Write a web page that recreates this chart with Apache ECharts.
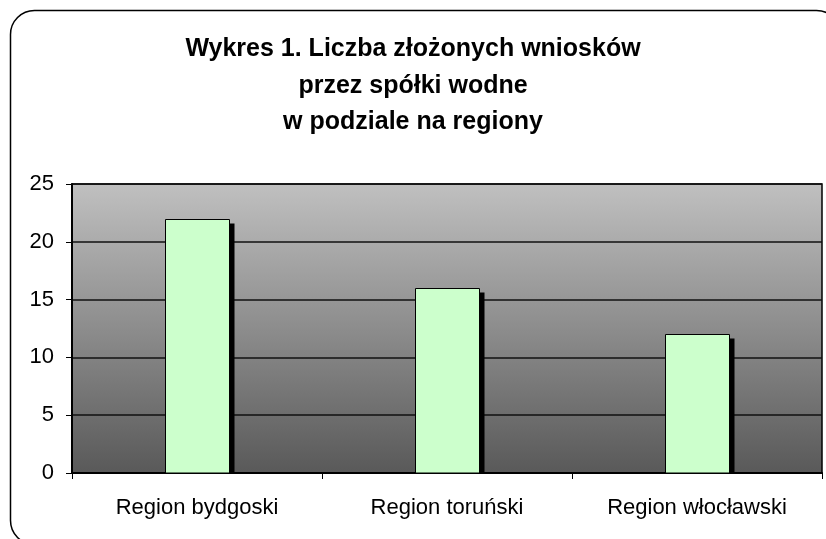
<!DOCTYPE html>
<html lang="pl" style="height: 100%">

<head>
    <meta charset="utf-8">
</head>

<body style="height: 100%; margin: 0; background: #ffffff;">
    <div id="container" style="width: 826px; height: 539px"></div>

    <script type="text/javascript" src="https://cdn.jsdelivr.net/npm/echarts@6/dist/echarts.min.js"></script>
    <script type="text/javascript">
        var titleLines = ['Wykres 1. Liczba złożonych wniosków', 'przez spółki wodne', 'w podziale na regiony'];
        var categories = ['Region bydgoski', 'Region toruński', 'Region włocławski'];
        var values = [22, 16, 12];
        var yTicks = [0, 5, 10, 15, 20, 25];

        var dom = document.getElementById('container');
        var myChart = echarts.init(dom, null, { renderer: 'canvas' });

        var fontName = '"Liberation Sans", Arial, sans-serif';
        var barRatio = 0.256; // szerokość słupka względem kategorii

        var option = {
            animation: false,
            backgroundColor: '#ffffff',
            title: {
                text: titleLines.join('\n'),
                left: 'center',
                top: 26,
                textStyle: {
                    fontFamily: fontName,
                    fontSize: 25,
                    fontWeight: 'bold',
                    color: '#000',
                    lineHeight: 36.5
                }
            },
            // ramka wykresu
            graphic: [{
                type: 'rect',
                silent: true,
                z: -10,
                shape: { x: 10.5, y: 10.5, width: 830, height: 534, r: 24 },
                style: { fill: 'none', stroke: '#000', lineWidth: 1.5 }
            }],
            grid: {
                left: 72,
                top: 184,
                right: 4,
                bottom: 66,
                show: true,
                borderColor: '#000',
                borderWidth: 1.5,
                backgroundColor: {
                    type: 'linear', x: 0, y: 0, x2: 0, y2: 1,
                    colorStops: [
                        { offset: 0, color: '#c0c0c0' },
                        { offset: 1, color: '#595959' }
                    ]
                }
            },
            xAxis: {
                type: 'category',
                data: categories,
                axisLine: { lineStyle: { color: '#000', width: 2 } },
                axisTick: { show: true, length: 6, lineStyle: { color: '#000', width: 1 } },
                axisLabel: {
                    margin: 24,
                    fontFamily: fontName,
                    fontSize: 22,
                    color: '#000'
                },
                splitLine: { show: false }
            },
            yAxis: {
                type: 'value',
                min: yTicks[0],
                max: yTicks[yTicks.length - 1],
                interval: yTicks[1] - yTicks[0],
                axisLine: { show: true, lineStyle: { color: '#000', width: 2 } },
                axisTick: { show: true, length: 6, lineStyle: { color: '#000', width: 1 } },
                axisLabel: {
                    margin: 18,
                    fontFamily: fontName,
                    fontSize: 22,
                    color: '#000'
                },
                splitLine: { show: true, lineStyle: { color: '#111', width: 1.5 } }
            },
            series: [{
                type: 'custom',
                clip: true,
                encode: { x: 0, y: 1 },
                data: values.map(function (v, i) { return [i, v]; }),
                renderItem: function (params, api) {
                    var top = api.coord([api.value(0), api.value(1)]);
                    var base = api.coord([api.value(0), 0]);
                    var bw = api.size([1, 0])[0] * barRatio;
                    var x = Math.round(top[0] - bw / 2) + 0.5;
                    var y = Math.round(top[1]) + 0.5;
                    var h = base[1] - y;
                    return {
                        type: 'group',
                        children: [{
                            // cień
                            type: 'rect',
                            shape: { x: x + 5, y: y + 4, width: bw, height: h },
                            style: { fill: '#000' }
                        }, {
                            type: 'rect',
                            shape: { x: x, y: y, width: bw, height: h },
                            style: { fill: '#ccffcc', stroke: '#000', lineWidth: 1 }
                        }]
                    };
                }
            }]
        };

        myChart.setOption(option);
        window.addEventListener('resize', myChart.resize);
    </script>
</body>

</html>
